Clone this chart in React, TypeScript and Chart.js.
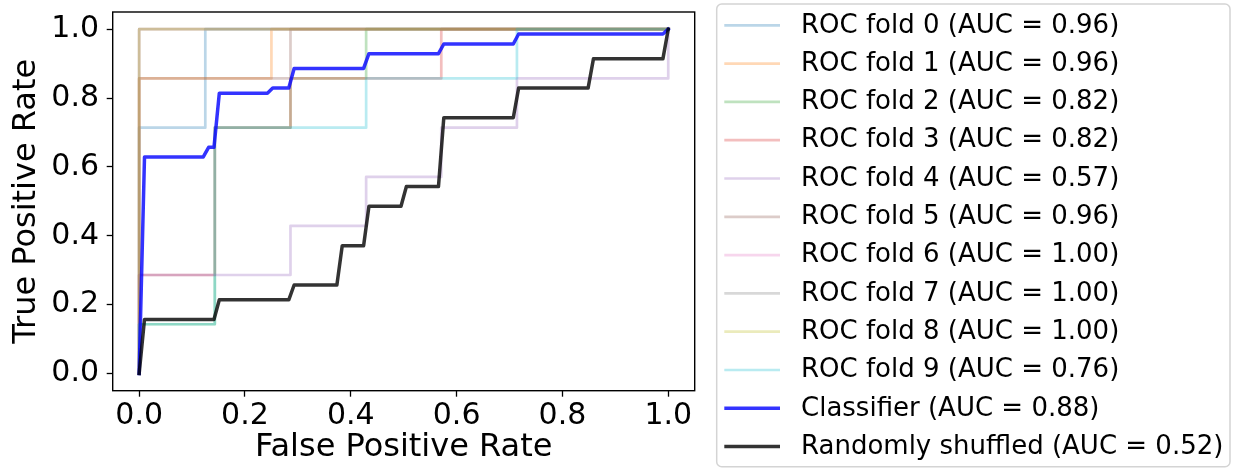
import { useEffect, useRef } from 'react';
import { Chart, registerables } from 'chart.js';

Chart.register(...registerables);

const FONT = "'DejaVu Sans', 'Liberation Sans', sans-serif";

// ---- data ----
const xTickValues = [0, 0.2, 0.4, 0.6, 0.8, 1.0];
const yTickValues = [0, 0.2, 0.4, 0.6, 0.8, 1.0];

const foldLabels = [
  'ROC fold 0 (AUC = 0.96)',
  'ROC fold 1 (AUC = 0.96)',
  'ROC fold 2 (AUC = 0.82)',
  'ROC fold 3 (AUC = 0.82)',
  'ROC fold 4 (AUC = 0.57)',
  'ROC fold 5 (AUC = 0.96)',
  'ROC fold 6 (AUC = 1.00)',
  'ROC fold 7 (AUC = 1.00)',
  'ROC fold 8 (AUC = 1.00)',
  'ROC fold 9 (AUC = 0.76)',
];

const fold0Fpr = [0, 0, 0.125, 0.125, 1];
const fold0Tpr = [0, 0.714, 0.714, 1, 1];
const fold1Fpr = [0, 0, 0.25, 0.25, 1];
const fold1Tpr = [0, 0.857, 0.857, 1, 1];
const fold2Fpr = [0, 0, 0.143, 0.143, 0.286, 0.286, 0.429, 0.429, 1];
const fold2Tpr = [0, 0.143, 0.143, 0.714, 0.714, 0.857, 0.857, 1, 1];
const fold3Fpr = [0, 0, 0.143, 0.143, 0.286, 0.286, 0.571, 0.571, 1];
const fold3Tpr = [0, 0.286, 0.286, 0.714, 0.714, 0.857, 0.857, 1, 1];
const fold4Fpr = [0, 0, 0.286, 0.286, 0.429, 0.429, 0.571, 0.571, 0.714, 0.714, 1, 1];
const fold4Tpr = [0, 0.286, 0.286, 0.429, 0.429, 0.571, 0.571, 0.714, 0.714, 0.857, 0.857, 1];
const fold5Fpr = [0, 0, 0.286, 0.286, 1];
const fold5Tpr = [0, 0.857, 0.857, 1, 1];
const fold6Fpr = [0, 0, 1];
const fold6Tpr = [0, 1, 1];
const fold7Fpr = [0, 0, 1];
const fold7Tpr = [0, 1, 1];
const fold8Fpr = [0, 0, 1];
const fold8Tpr = [0, 1, 1];
const fold9Fpr = [0, 0, 0.143, 0.143, 0.429, 0.429, 0.714, 0.714, 1];
const fold9Tpr = [0, 0.143, 0.143, 0.714, 0.714, 0.857, 0.857, 1, 1];

const classifierLabel = 'Classifier (AUC = 0.88)';
const classifierFpr = [0, 0.0101, 0.1212, 0.1313, 0.1414, 0.1515, 0.2424, 0.2525, 0.2828, 0.2929, 0.4242, 0.4343, 0.5657, 0.5758, 0.7071, 0.7172, 0.9899, 1];
const classifierTpr = [0, 0.629, 0.629, 0.657, 0.657, 0.814, 0.814, 0.829, 0.829, 0.886, 0.886, 0.929, 0.929, 0.957, 0.957, 0.986, 0.986, 1];

const shuffledLabel = 'Randomly shuffled (AUC = 0.52)';
const shuffledFpr = [0, 0.0101, 0.1414, 0.1515, 0.2828, 0.2929, 0.3737, 0.3838, 0.4242, 0.4343, 0.4949, 0.5051, 0.5657, 0.5758, 0.7071, 0.7172, 0.8485, 0.8586, 0.9899, 1];
const shuffledTpr = [0, 0.157, 0.157, 0.214, 0.214, 0.257, 0.257, 0.371, 0.371, 0.486, 0.486, 0.543, 0.543, 0.743, 0.743, 0.829, 0.829, 0.914, 0.914, 1];

const foldFprs = [fold0Fpr, fold1Fpr, fold2Fpr, fold3Fpr, fold4Fpr, fold5Fpr, fold6Fpr, fold7Fpr, fold8Fpr, fold9Fpr];
const foldTprs = [fold0Tpr, fold1Tpr, fold2Tpr, fold3Tpr, fold4Tpr, fold5Tpr, fold6Tpr, fold7Tpr, fold8Tpr, fold9Tpr];

// ---- styles ----
const foldColors = [
  'rgba(31,119,180,0.3)',
  'rgba(255,127,14,0.3)',
  'rgba(44,160,44,0.3)',
  'rgba(214,39,40,0.3)',
  'rgba(148,103,189,0.3)',
  'rgba(140,86,75,0.3)',
  'rgba(227,119,194,0.3)',
  'rgba(127,127,127,0.3)',
  'rgba(188,189,34,0.3)',
  'rgba(23,190,207,0.3)',
];
const classifierColor = 'rgba(0,0,255,0.8)';
const shuffledColor = 'rgba(0,0,0,0.8)';

const W = 1238;
const H = 470;
const AREA = { left: 112.7, top: 12, right: 694.7, bottom: 390.7 };
const TICK_SIZE = 30;
const TITLE_SIZE = 32;
const LEGEND = {
  left: 716.7, top: 4, right: 1230, bottom: 466.7,
  rowY0: 25.3, rowDy: 38.3, lineX0: 724.3, lineX1: 780, textX: 801, fontSize: 26,
};

const toPts = (xs: number[], ys: number[]) => xs.map((x, i) => ({ x, y: ys[i] }));

const framePlugin = {
  id: 'frameAndLegend',
  afterDatasetsDraw(chart: any) {
    const { ctx, chartArea } = chart;
    ctx.save();
    ctx.strokeStyle = '#000';
    ctx.lineWidth = 1.4;
    ctx.strokeRect(chartArea.left, chartArea.top, chartArea.right - chartArea.left, chartArea.bottom - chartArea.top);
    ctx.restore();
  },
  afterDraw(chart: any) {
    const { ctx } = chart;
    ctx.save();
    const r = 5;
    const { left, top, right, bottom } = LEGEND;
    ctx.beginPath();
    ctx.moveTo(left + r, top);
    ctx.lineTo(right - r, top);
    ctx.arcTo(right, top, right, top + r, r);
    ctx.lineTo(right, bottom - r);
    ctx.arcTo(right, bottom, right - r, bottom, r);
    ctx.lineTo(left + r, bottom);
    ctx.arcTo(left, bottom, left, bottom - r, r);
    ctx.lineTo(left, top + r);
    ctx.arcTo(left, top, left + r, top, r);
    ctx.closePath();
    ctx.fillStyle = 'rgba(255,255,255,0.8)';
    ctx.fill();
    ctx.strokeStyle = '#d4d4d4';
    ctx.lineWidth = 1.5;
    ctx.stroke();

    const ds = [...chart.data.datasets];
    ctx.font = `${LEGEND.fontSize}px ${FONT}`;
    ctx.textBaseline = 'middle';
    ctx.textAlign = 'left';
    ds.forEach((d: any, i: number) => {
      const y = LEGEND.rowY0 + i * LEGEND.rowDy;
      ctx.beginPath();
      ctx.strokeStyle = d.borderColor;
      ctx.lineWidth = d.borderWidth;
      ctx.lineCap = 'butt';
      ctx.moveTo(LEGEND.lineX0, y);
      ctx.lineTo(LEGEND.lineX1, y);
      ctx.stroke();
      ctx.fillStyle = '#000';
      ctx.fillText(d.label, LEGEND.textX, y + 0.5);
    });
    ctx.restore();
  },
};

export default function App() {
  const ref = useRef<HTMLCanvasElement | null>(null);

  useEffect(() => {
    document.body.style.margin = '0';
    const canvas = ref.current;
    if (!canvas) return;

    const n = foldLabels.length + 2;
    const datasets: any[] = foldLabels.map((label, i) => ({
      label,
      data: toPts(foldFprs[i], foldTprs[i]),
      borderColor: foldColors[i],
      borderWidth: 2.7,
      order: n - i,
    }));
    datasets.push({
      label: classifierLabel,
      data: toPts(classifierFpr, classifierTpr),
      borderColor: classifierColor,
      borderWidth: 3.5,
      order: 2,
    });
    datasets.push({
      label: shuffledLabel,
      data: toPts(shuffledFpr, shuffledTpr),
      borderColor: shuffledColor,
      borderWidth: 3.5,
      order: 1,
    });
    datasets.forEach((d) => {
      d.pointRadius = 0;
      d.tension = 0;
      d.fill = false;
      d.borderJoinStyle = 'round';
      d.borderCapStyle = 'square';
    });

    const tickFont = { family: FONT, size: TICK_SIZE };
    const titleFont = { family: FONT, size: TITLE_SIZE };
    const fmt = (v: any) => Number(v).toFixed(1);

    const chart = new Chart(canvas, {
      type: 'line',
      data: { datasets },
      plugins: [framePlugin],
      options: {
        animation: false,
        responsive: false,
        maintainAspectRatio: false,
        devicePixelRatio: 1,
        parsing: true,
        layout: { padding: { left: 0, top: AREA.top, right: W - AREA.right, bottom: 0 } },
        plugins: { legend: { display: false }, tooltip: { enabled: false } },
        scales: {
          x: {
            type: 'linear',
            min: -0.05,
            max: 1.05,
            afterBuildTicks: (s: any) => { s.ticks = xTickValues.map((v) => ({ value: v })); },
            afterFit: (s: any) => { s.height = H - AREA.bottom; s.paddingLeft = 0; s.paddingRight = 0; },
            grid: { display: true, drawOnChartArea: false, drawTicks: true, tickLength: 6, tickWidth: 1.3, tickColor: '#000' },
            border: { display: false },
            ticks: { font: tickFont, color: '#000', padding: 1.3, maxRotation: 0, autoSkip: false, callback: fmt },
            title: { display: true, text: 'False Positive Rate', font: titleFont, color: '#000', padding: { top: 0, bottom: 3.3 } },
          },
          y: {
            type: 'linear',
            min: -0.05,
            max: 1.05,
            afterBuildTicks: (s: any) => { s.ticks = yTickValues.map((v) => ({ value: v })); },
            afterFit: (s: any) => { s.width = AREA.left; s.paddingTop = 0; s.paddingBottom = 0; },
            grid: { display: true, drawOnChartArea: false, drawTicks: true, tickLength: 6, tickWidth: 1.3, tickColor: '#000' },
            border: { display: false },
            ticks: { font: tickFont, color: '#000', padding: 7.7, autoSkip: false, callback: fmt },
            title: { display: true, text: 'True Positive Rate', font: titleFont, color: '#000', padding: { top: 7.5, bottom: 0 } },
          },
        },
      } as any,
    });
    return () => chart.destroy();
  }, []);

  return (
    <div style={{ position: 'absolute', left: 0, top: 0, width: W, height: H }}>
      <canvas ref={ref} width={W} height={H} style={{ width: W, height: H, display: 'block' }} />
    </div>
  );
}
